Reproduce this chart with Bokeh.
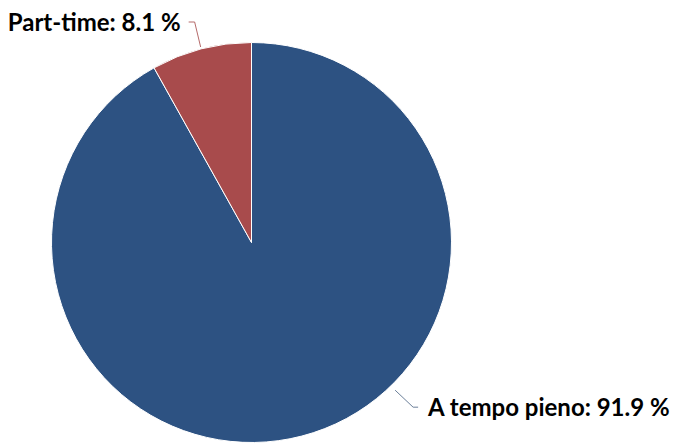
import numpy as np
from bokeh.plotting import figure
from bokeh.models import Range1d
from bokeh.embed import file_html
from bokeh.resources import INLINE
from bokeh.core.properties import value

# Data
categories = ["A tempo pieno", "Part-time"]
shares = [91.9, 8.1]
colors = ["#2d5282", "#a84b4c"]
label_colors = ["#6b7f99", "#b56a6a"]

W, H = 674, 444
p = figure(width=W, height=H, output_backend="svg", toolbar_location=None,
           x_range=Range1d(0, W), y_range=Range1d(0, H), min_border=0)
p.axis.visible = False
p.grid.visible = False
p.outline_line_color = None
p.background_fill_color = "white"

cx, cy, r = 251, 202, 200

# angles: start at top going clockwise
vals = np.array(shares, dtype=float)
frac = vals / vals.sum()
cum = np.concatenate([[0], np.cumsum(frac)])
for i in range(len(vals)):
    a_start_cw = cum[i] * 2 * np.pi
    a_end_cw = cum[i + 1] * 2 * np.pi
    start = np.pi / 2 - a_end_cw
    end = np.pi / 2 - a_start_cw
    p.wedge(x=cx, y=cy, radius=r, start_angle=start, end_angle=end,
            fill_color=colors[i], line_color="#ffffff", line_width=1)

FONT = value("Lato")
FS = "24px"

# Part-time label
mid_red = np.pi / 2 - (cum[1] + cum[2]) / 2 * 2 * np.pi
ex, ey = cx + (r + 2) * np.cos(mid_red), cy + (r + 2) * np.sin(mid_red)
p.line([ex, ex - 6, ex - 12], [ey, ey + 25, ey + 25], line_color=label_colors[1], line_width=1)
p.text(x=[ex - 20], y=[ey + 26], text=[f"{categories[1]}: {shares[1]} %"],
       text_font=FONT, text_font_style="bold", text_font_size=FS,
       text_align="right", text_baseline="middle", text_color="#000000")

# A tempo pieno label
ang_blue = np.deg2rad(-45.8)
bx, by = cx + (r + 6) * np.cos(ang_blue), cy + (r + 6) * np.sin(ang_blue)
p.line([bx, bx + 18, bx + 23], [by, by - 17, by - 17], line_color=label_colors[0], line_width=1)
p.text(x=[bx + 33], y=[by - 16], text=[f"{categories[0]}: {shares[0]} %"],
       text_font=FONT, text_font_style="bold", text_font_size=FS,
       text_align="left", text_baseline="middle", text_color="#000000")

open("out.html", "w").write(file_html(p, INLINE))
